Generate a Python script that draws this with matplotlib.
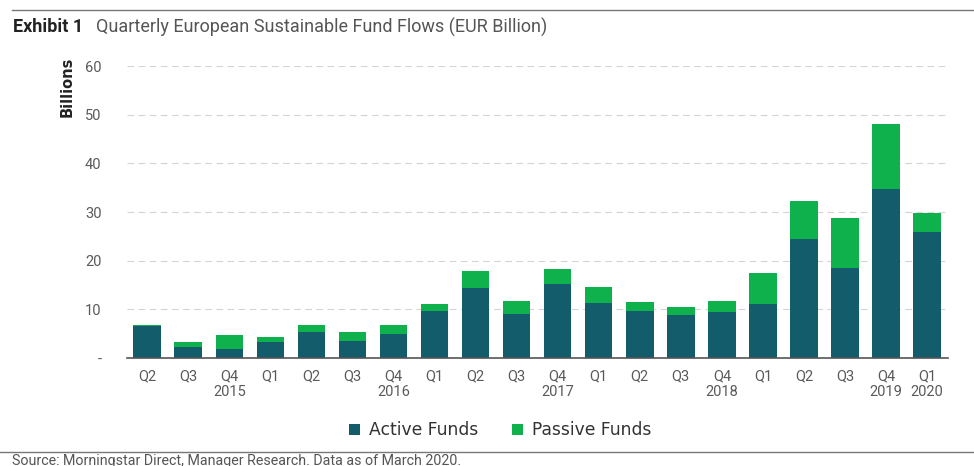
import matplotlib
matplotlib.use('Agg')
import matplotlib.pyplot as plt
import numpy as np

# quarterly flows, EUR billion
quarters = ['Q2', 'Q3', 'Q4', 'Q1', 'Q2', 'Q3', 'Q4', 'Q1', 'Q2', 'Q3',
            'Q4', 'Q1', 'Q2', 'Q3', 'Q4', 'Q1', 'Q2', 'Q3', 'Q4', 'Q1']
years = ['', '', '2015', '', '', '', '2016', '', '', '',
         '2017', '', '', '', '2018', '', '', '', '2019', '2020']
active = [6.5, 2.2, 1.9, 3.2, 5.3, 3.4, 4.9, 9.7, 14.4, 9.0,
          15.3, 11.2, 9.6, 8.9, 9.4, 11.1, 24.5, 18.4, 34.8, 25.8]
total = [6.8, 3.2, 4.8, 4.2, 6.8, 5.3, 6.8, 11.1, 17.9, 11.8,
         18.3, 14.5, 11.4, 10.5, 11.6, 17.4, 32.3, 28.8, 48.2, 29.9]
passive = [t - a for t, a in zip(total, active)]

c_active = '#135c6c'
c_passive = '#0fb14c'
grey = '#5a5a5a'

plt.rcParams['font.family'] = ['Roboto', 'DejaVu Sans']

fig = plt.figure(figsize=(9.74, 4.66), dpi=100)
ax = fig.add_axes([0.130, 0.232, 0.843, 0.626])

x = np.arange(len(quarters))
ax.bar(x, active, width=0.67, color=c_active, label='Active Funds', zorder=3)
ax.bar(x, passive, width=0.67, bottom=active, color=c_passive,
       label='Passive Funds', zorder=3)

ax.set_xlim(-0.5, len(quarters) - 0.5)
ax.set_ylim(0, 60)
ax.set_yticks(range(0, 61, 10))
ax.set_yticklabels(['-'] + [str(v) for v in range(10, 61, 10)])
ax.set_xticks(x)
ax.set_xticklabels([q + ('\n' + y if y else '') for q, y in zip(quarters, years)],
                   linespacing=1.2)
ax.tick_params(length=0, colors=grey, labelsize=10.5)
ax.tick_params(axis='y', pad=18)
ax.tick_params(axis='x', pad=8)

ax.grid(axis='y', linestyle=(0, (6, 4)), color='#d4d4d4', linewidth=0.8, zorder=0)
for s in ['top', 'right', 'left']:
    ax.spines[s].set_visible(False)
ax.spines['bottom'].set_color('#555555')
ax.spines['bottom'].set_linewidth(1.2)
ax.spines['bottom'].set_zorder(4)

ax.text(-0.072, 0.93, 'Billions', transform=ax.transAxes, rotation=90,
        ha='center', va='center', fontsize=10.5, fontweight='bold', color='#222222',
        family='Liberation Sans Narrow')

leg = ax.legend(loc='upper center', bbox_to_anchor=(0.455, -0.165), ncol=2,
                frameon=False, handlelength=0.65, handleheight=0.65,
                columnspacing=2.0, handletextpad=0.5,
                prop={'family': 'DejaVu Sans', 'size': 12.3})
for t in leg.get_texts():
    t.set_color('#333333')

# title, rules and source
fig.add_artist(plt.Line2D([0.012, 1.0], [0.978, 0.978], color='#777777', linewidth=1))
fig.text(0.013, 0.942, 'Exhibit 1', fontsize=13, fontweight='bold',
         color='#222222', va='center')
fig.text(0.099, 0.942, 'Quarterly European Sustainable Fund Flows (EUR Billion)',
         fontsize=13, color='#555555', va='center')
fig.add_artist(plt.Line2D([0.0, 1.0], [0.031, 0.031], color='#777777', linewidth=1))
fig.text(0.012, -0.004, 'Source: Morningstar Direct, Manager Research. Data as of March 2020.',
         fontsize=10.3, color='#555555', va='bottom')

fig.savefig('out.png', dpi=100)
